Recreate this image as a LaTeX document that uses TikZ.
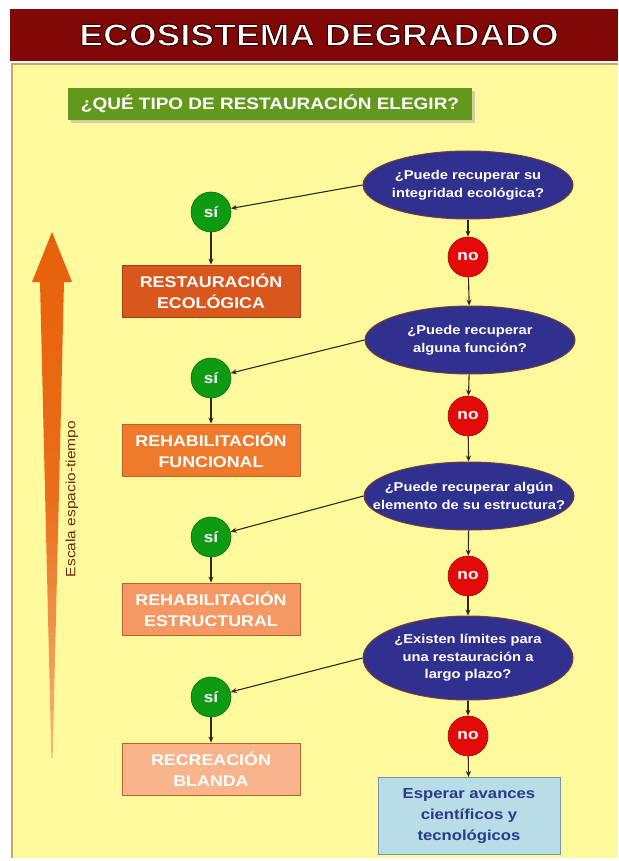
\documentclass[tikz,border=0pt]{standalone}
\usepackage{fontspec}
\setmainfont{Liberation Sans}[FakeStretch=1.15]
\usetikzlibrary{shapes.geometric,arrows.meta}

\definecolor{bandred}{HTML}{820808}
\definecolor{panelyellow}{HTML}{FFF99E}
\definecolor{paneledge}{HTML}{C9A66A}
\definecolor{titlegreen}{HTML}{62991C}
\definecolor{qblue}{HTML}{30308F}
\definecolor{qedge}{HTML}{7A3A30}
\definecolor{nored}{HTML}{E40A0A}
\definecolor{sigreen}{HTML}{0E9A12}
\definecolor{linkc}{HTML}{2E2A10}
\definecolor{resA}{HTML}{D9561C}
\definecolor{resB}{HTML}{F07A2C}
\definecolor{resC}{HTML}{F59863}
\definecolor{resD}{HTML}{F8B48A}
\definecolor{resedge}{HTML}{B8642C}
\definecolor{waitfill}{HTML}{B9DDE6}
\definecolor{waitedge}{HTML}{7D93A3}
\definecolor{waittext}{HTML}{2B3A8A}
\definecolor{arrowtop}{HTML}{E8600A}
\definecolor{arrowbot}{HTML}{F4B878}
\definecolor{scaletext}{HTML}{6E2A0C}

% white letters with a thin dark outline (fill + stroke rendering mode)
\newcommand\outlined[1]{\special{pdf:literal direct 0.22 0.02 0.02 RG 1.1 w 2 Tr}#1\special{pdf:literal direct 0 Tr}}

\begin{document}
\begin{tikzpicture}[x=1pt,y=-1pt,
  question/.style={ellipse, fill=qblue, draw=qedge, line width=1pt, text=white,
    font=\bfseries\fontsize{12.8}{17.5}\selectfont, align=center,
    inner xsep=-30pt, inner ysep=0pt,
    minimum width=210pt, minimum height=68pt},
  yesnode/.style={circle, fill=sigreen, draw=sigreen!70!black, line width=0.6pt,
    minimum size=40pt, inner sep=0pt, text=white,
    font=\bfseries\fontsize{15}{15}\selectfont},
  nonode/.style={yesnode, fill=nored, draw=nored!70!black},
  result/.style={rectangle, minimum width=178pt, minimum height=52pt, draw=resedge,
    line width=0.8pt, text=white, align=center, inner sep=2pt,
    font=\bfseries\fontsize{15.5}{21}\selectfont},
  link/.style={-{Stealth[length=6pt,width=5pt]}, line width=1.1pt, draw=linkc}]

\useasboundingbox (0,0) rectangle (618,861);
\fill[white] (0,0) rectangle (618,861);

% header band and panel
\fill[bandred] (10,9) rectangle (618,61);
\fill[panelyellow] (12,64) rectangle (618,858);
\draw[paneledge, line width=1.2pt] (12,858) -- (12,64) -- (618,64);

% heading
\node[text=white, font=\bfseries\fontsize{31}{31}\selectfont] (heading) at (319,35) {\outlined{ECOSISTEMA DEGRADADO}};

% subtitle bar
\fill[black!35, opacity=0.5] (71,91) rectangle (475,123);
\node[fill=titlegreen, minimum width=404pt, minimum height=32pt, inner sep=0pt,
  text=white, font=\bfseries\fontsize{16.5}{16.5}\selectfont] (ask) at (270,104) {¿QUÉ TIPO DE RESTAURACIÓN ELEGIR?};

% scale arrow
\shade[top color=arrowtop, bottom color=arrowbot, middle color=arrowtop!85!arrowbot]
  (52,232) -- (72,282) -- (64,282) -- (52.6,758) -- (51.4,758) -- (40,282) -- (32,282) -- cycle;
\node[rotate=90, text=scaletext, font=\fontsize{13.5}{13.5}\selectfont] (scale) at (72,499) {Escala espacio-tiempo};

% questions
\node[question] (q1) at (468,185) {¿Puede recuperar su\\integridad ecológica?};
\node[question] (q2) at (470,340) {¿Puede recuperar\\alguna función?};
\node[question] (q3) at (469,496) {¿Puede recuperar algún\\elemento de su estructura?};
\node[question, minimum height=84pt] (q4) at (468,658) {¿Existen límites para\\una restauración a\\largo plazo?};

% answers
\node[nonode] (n1) at (468,257) {no};
\node[nonode] (n2) at (468,416) {no};
\node[nonode] (n3) at (468,576) {no};
\node[nonode] (n4) at (468,736) {no};

\node[yesnode] (s1) at (211,212) {sí};
\node[yesnode] (s2) at (211,378) {sí};
\node[yesnode] (s3) at (211,537) {sí};
\node[yesnode] (s4) at (211,697) {sí};

% outcomes
\node[result, fill=resA, draw=resA!75!black] (r1) at (211,291) {RESTAURACIÓN\\ECOLÓGICA};
\node[result, fill=resB] (r2) at (211,450) {REHABILITACIÓN\\FUNCIONAL};
\node[result, fill=resC] (r3) at (211,609) {REHABILITACIÓN\\ESTRUCTURAL};
\node[result, fill=resD] (r4) at (211,769) {RECREACIÓN\\BLANDA};
\node[rectangle, fill=waitfill, draw=waitedge, line width=1pt, minimum width=182pt,
  minimum height=77pt, align=center, text=waittext,
  font=\bfseries\fontsize{14.5}{21}\selectfont] (wait) at (469,816) {Esperar avances\\científicos y\\tecnológicos};

% connectors
\draw[link] (q1.west) -- (s1);
\draw[link] (q2.west) -- (s2);
\draw[link] (q3.west) -- (s3);
\draw[link] (q4.west) -- (s4);
\foreach \i in {1,2,3,4} \draw[link] (s\i) -- (r\i);
\draw[link] (q1) -- (n1);
\draw[link] (n1) -- (q2);
\draw[link] (q2) -- (n2);
\draw[link] (n2) -- (q3);
\draw[link] (q3) -- (n3);
\draw[link] (n3) -- (q4);
\draw[link] (q4) -- (n4);
\draw[link] (n4) -- (wait);
\end{tikzpicture}
\end{document}
